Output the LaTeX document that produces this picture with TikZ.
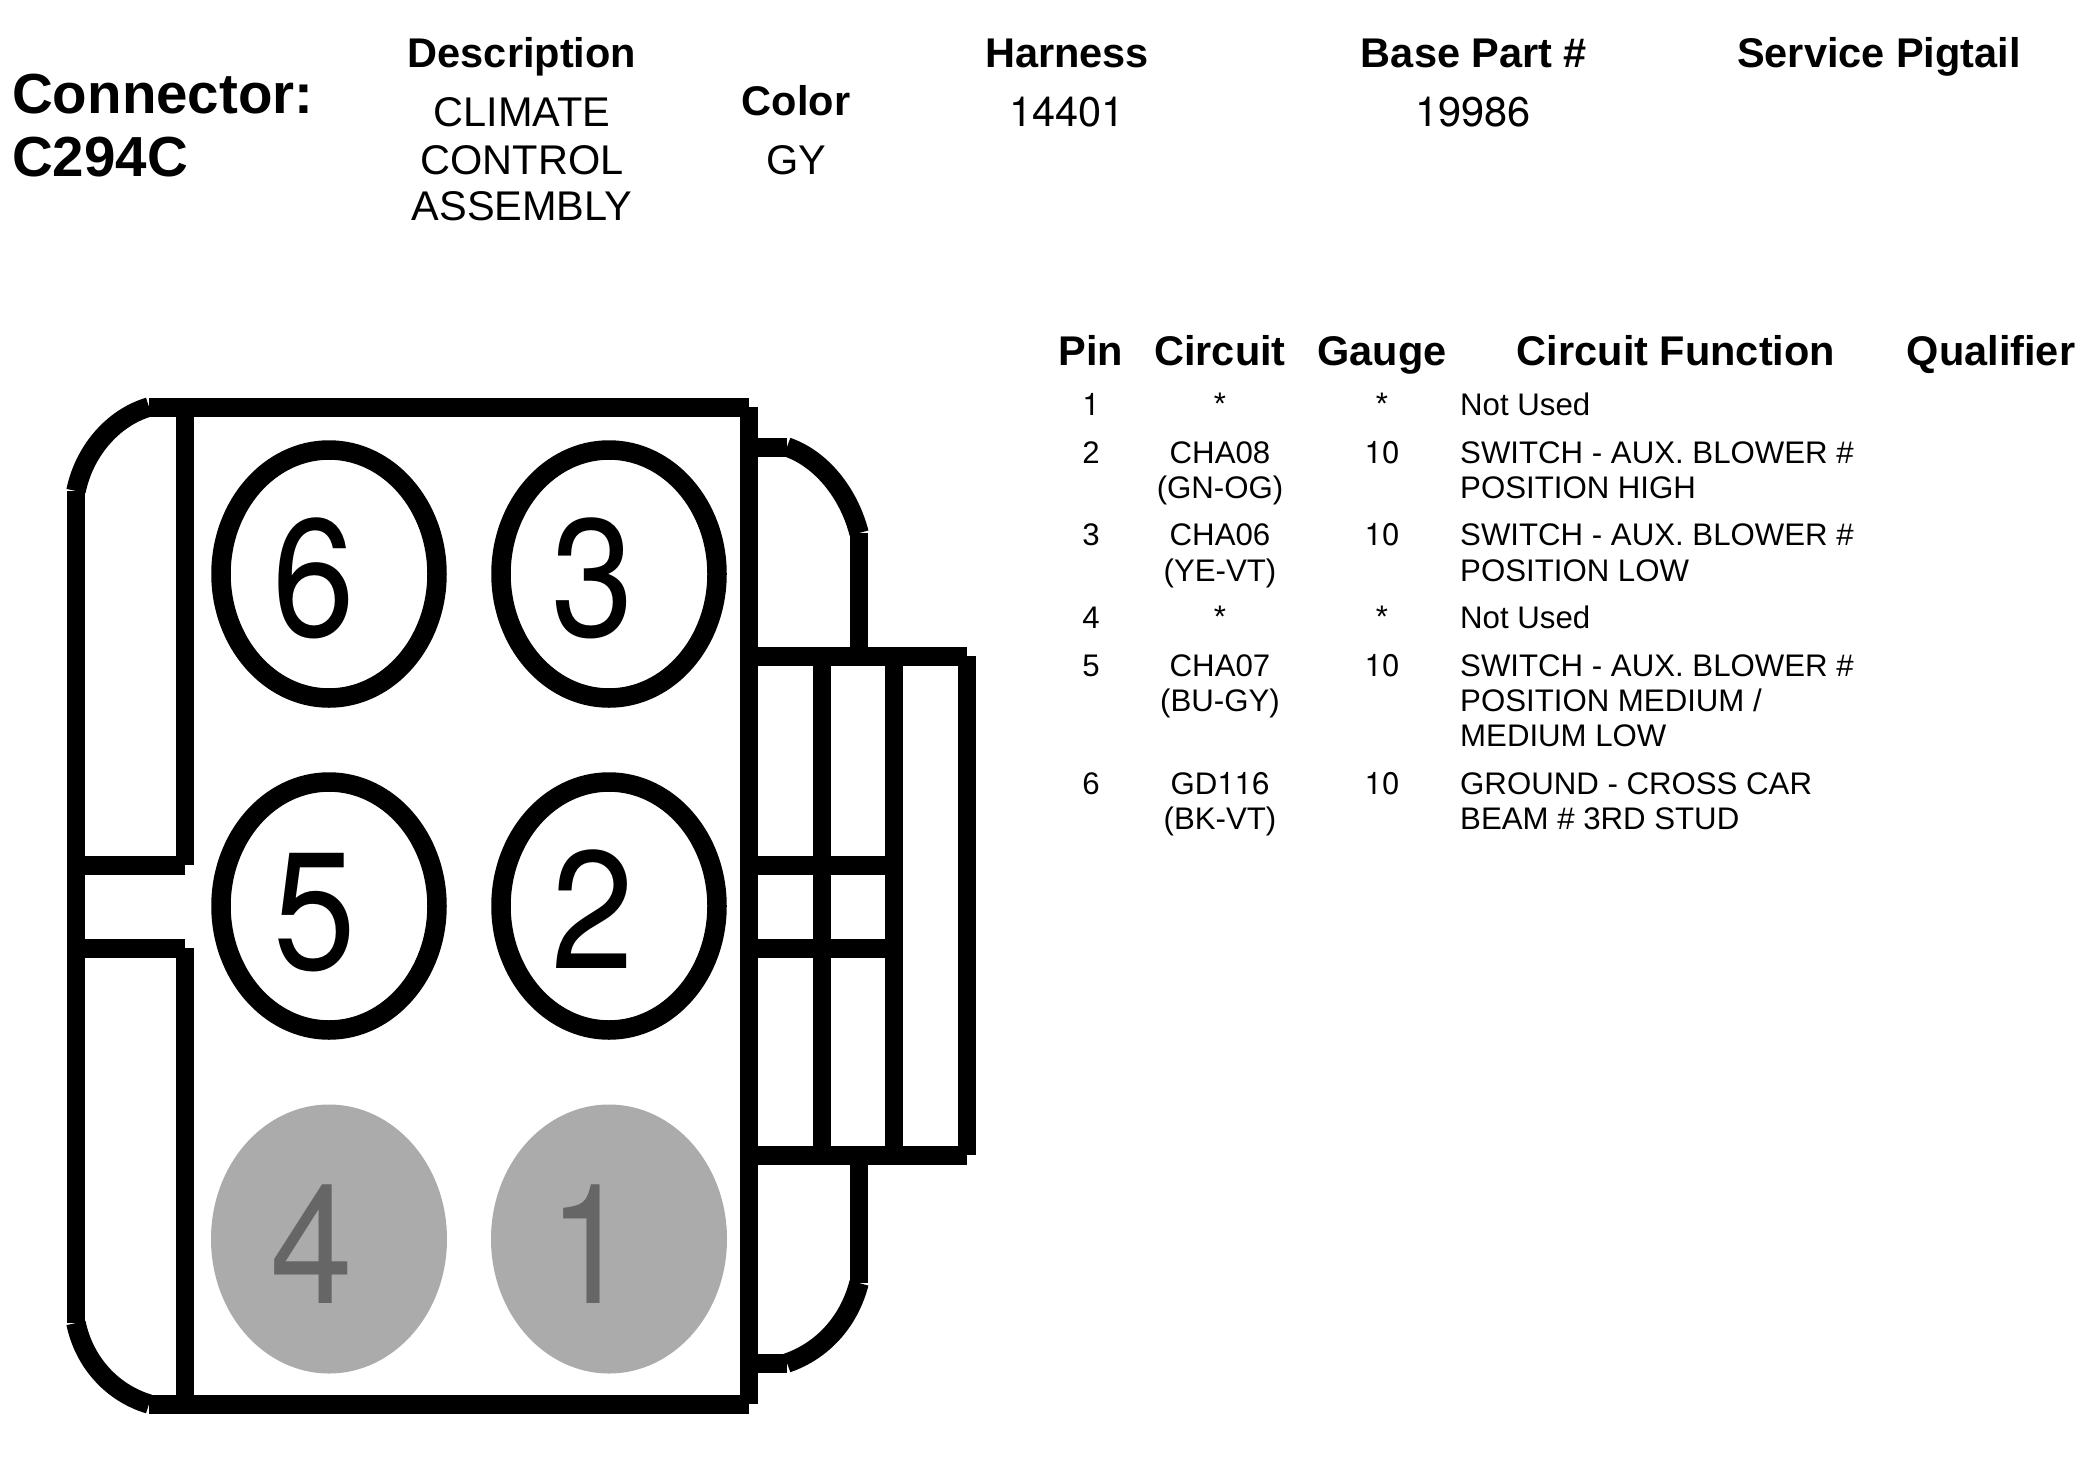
\documentclass[tikz,border=0pt]{standalone}
\usepackage{fontspec}
\setmainfont{Liberation Sans}
\newfontfamily\numfont{TeX Gyre Heros}
\definecolor{pingray}{HTML}{ABABAB}
\definecolor{digitgray}{HTML}{666666}
\tikzset{
  vwall/.style={draw=black,line width=17.5pt,line cap=butt,line join=miter},
  hwall/.style={draw=black,line width=19pt,line cap=butt,line join=miter},
  curvewall/.style={draw=black,line width=19.5pt,line cap=butt,line join=round},
  pinopen/.style={draw=black,line width=19.5pt,fill=white},
  pinblank/.style={fill=pingray},
  digit/.style={anchor=base,inner sep=0pt,font=\fontsize{158}{158}\numfont},
  digitlow/.style={digit,text=digitgray},
  head/.style={anchor=base,inner sep=0pt,font=\fontsize{41.5}{41.5}\bfseries\selectfont},
  big/.style={anchor=base west,inner sep=0pt,font=\fontsize{56.5}{56.5}\bfseries\selectfont},
  desc/.style={anchor=base,inner sep=0pt,font=\fontsize{41.5}{41.5}\selectfont},
  cell/.style={anchor=base,inner sep=0pt,font=\fontsize{31.2}{31.2}\selectfont},
  fn/.style={anchor=base west,inner sep=0pt,font=\fontsize{31.2}{31.2}\selectfont},
}
\newcommand{\tallfig}[1]{\scalebox{0.94}[1.06]{#1}}
\begin{document}
\begin{tikzpicture}[x=1pt,y=-1pt]
\useasboundingbox (0,0) rectangle (2089,1457);
% pins
\path[pinopen] (329,574) ellipse [x radius=108,y radius=124];
\path[pinopen] (609,574) ellipse [x radius=108,y radius=124];
\path[pinopen] (329,906) ellipse [x radius=108,y radius=124];
\path[pinopen] (609,906) ellipse [x radius=108,y radius=124];
\path[pinblank] (329,1239) ellipse [x radius=118,y radius=134.5];
\path[pinblank] (609,1239) ellipse [x radius=118,y radius=134.5];
\node[digit] (d6) at (314,636) {\tallfig{6}};
\node[digit] (d3) at (593,636) {\tallfig{3}};
\node[digit] (d5) at (315,969) {\tallfig{5}};
\node[digit] (d2) at (593,968) {\tallfig{2}};
\node[digitlow] (d4) at (312,1303) {\tallfig{4}};
\node[digitlow] (d1) at (590,1303) {\tallfig{1}};
% body
\draw[hwall] (149,407) -- (749,407);
\draw[hwall] (149,1404) -- (749,1404);
\draw[vwall] (749,407) -- (749,1404);
\draw[vwall] (185,407) -- (185,865);
\draw[vwall] (185,948) -- (185,1404);
\draw[vwall] (76,491) -- (76,1323);
\draw[curvewall] (76,491) .. controls (84,452) and (112,418) .. (149,407);
\draw[curvewall] (76,1323) .. controls (84,1362) and (112,1393) .. (149,1404);
\draw[hwall] (76,865) -- (185,865);
\draw[hwall] (76,948) -- (185,948);
% right side
\draw[hwall] (749,447) -- (787,447);
\draw[curvewall] (787,447) .. controls (822,459) and (849,494) .. (859,533);
\draw[vwall] (859,533) -- (859,658);
\draw[hwall] (749,1363) -- (787,1363);
\draw[curvewall] (787,1363) .. controls (822,1351) and (849,1322) .. (859,1283);
\draw[vwall] (859,1283) -- (859,1157);
\draw[hwall] (749,656) -- (967,656);
\draw[hwall] (749,1155) -- (967,1155);
\draw[vwall] (967,656) -- (967,1155);
\draw[vwall] (822,656) -- (822,1155);
\draw[vwall] (894,656) -- (894,1155);
\draw[hwall] (749,865) -- (894,865);
\draw[hwall] (749,948) -- (894,948);
% header
\node[big] (c1) at (12,113) {Connector:};
\node[big] (c2) at (12,176) {C294C};
\node[head] (h1) at (522,67) {Description};
\node[desc] (t1) at (522,126) {CLIMATE};
\node[desc] (t2) at (522,174) {CONTROL};
\node[desc] (t3) at (522,220) {ASSEMBLY};
\node[head] (h2) at (796,115) {Color};
\node[desc] (t4) at (796,174) {GY};
\node[head] (h3) at (1067,67) {Harness};
\node[desc] (t5) at (1067,126) {\numfont 14401};
\node[head] (h4) at (1474,67) {Base Part \#};
\node[desc] (t6) at (1473,126) {\numfont 19986};
\node[head] (h5) at (1879,67) {Service Pigtail};
% table head
\node[head] (k1) at (1091,365) {Pin};
\node[head] (k2) at (1220,365) {Circuit};
\node[head] (k3) at (1382,365) {Gauge};
\node[head] (k4) at (1676,365) {Circuit Function};
\node[head] (k5) at (1991,365) {Qualifier};
% rows
\node[cell] (a1) at (1091,415) {\numfont 1};
\node[cell] (b1) at (1220,414) {*};
\node[cell] (g1) at (1382,414) {*};
\node[fn] (f1) at (1460,415) {Not Used};
\node[cell] (a2) at (1091,463) {2};
\node[cell] (b2) at (1220,463) {CHA08};
\node[cell] (b2x) at (1220,498) {(GN-OG)};
\node[cell] (g2) at (1382,463) {\numfont 10};
\node[fn] (f2) at (1460,463) {SWITCH - AUX. BLOWER \#};
\node[fn] (f2x) at (1460,498) {POSITION HIGH};
\node[cell] (a3) at (1091,545) {3};
\node[cell] (b3) at (1220,545) {CHA06};
\node[cell] (b3x) at (1220,581) {(YE-VT)};
\node[cell] (g3) at (1382,545) {\numfont 10};
\node[fn] (f3) at (1460,545) {SWITCH - AUX. BLOWER \#};
\node[fn] (f3x) at (1460,581) {POSITION LOW};
\node[cell] (a4) at (1091,628) {4};
\node[cell] (b4) at (1220,627) {*};
\node[cell] (g4) at (1382,627) {*};
\node[fn] (f4) at (1460,628) {Not Used};
\node[cell] (a5) at (1091,676) {5};
\node[cell] (b5) at (1220,676) {CHA07};
\node[cell] (b5x) at (1220,711) {(BU-GY)};
\node[cell] (g5) at (1382,676) {\numfont 10};
\node[fn] (f5) at (1460,676) {SWITCH - AUX. BLOWER \#};
\node[fn] (f5x) at (1460,711) {POSITION MEDIUM /};
\node[fn] (f5y) at (1460,746) {MEDIUM LOW};
\node[cell] (a6) at (1091,794) {6};
\node[cell] (b6) at (1220,794) {GD{\numfont 116}};
\node[cell] (b6x) at (1220,829) {(BK-VT)};
\node[cell] (g6) at (1382,794) {\numfont 10};
\node[fn] (f6) at (1460,794) {GROUND - CROSS CAR};
\node[fn] (f6x) at (1460,829) {BEAM \# 3RD STUD};
\end{tikzpicture}
\end{document}
